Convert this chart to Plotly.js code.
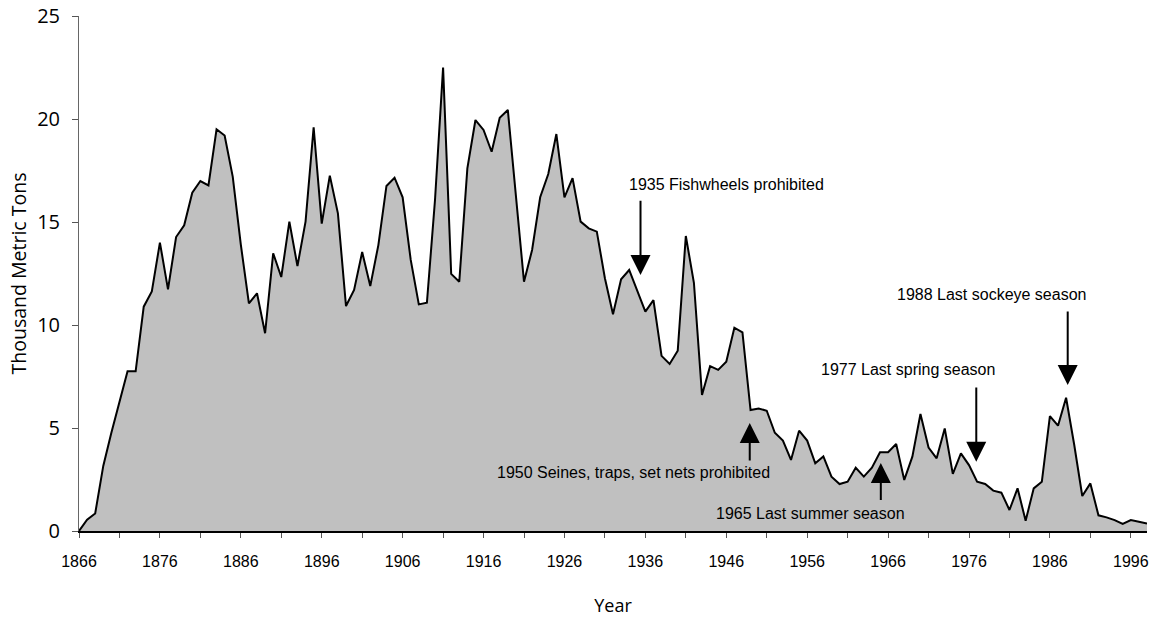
<!DOCTYPE html>
<html>
<head>
<meta charset="utf-8">
<script src="https://cdn.plot.ly/plotly-3.0.1.min.js"></script>
<style>html,body{margin:0;padding:0;background:#fff;}#chart{width:1152px;height:618px;}</style>
</head>
<body>
<div id="chart"></div>
<script>
// Years 1866-1998
const startYear = 1866;
const catch1000t = [
  0, 0.55, 0.85, 3.16, 4.77, 6.23, 7.75, 7.75, 10.89, 11.63,
  14.0, 11.73, 14.27, 14.84, 16.42, 16.99, 16.78, 19.5, 19.2, 17.2,
  13.9, 11.05, 11.54, 9.6, 13.48, 12.33, 15.02, 12.86, 15.02, 19.6,
  14.92, 17.25, 15.42, 10.92, 11.7, 13.54, 11.89, 13.88, 16.75, 17.15,
  16.2, 13.16, 11.0, 11.08, 16.07, 22.5, 12.48, 12.1, 17.6, 19.95,
  19.47, 18.41, 20.06, 20.44, 16.3, 12.1, 13.64, 16.2, 17.33, 19.27,
  16.2, 17.13, 15.02, 14.69, 14.53, 12.27, 10.52, 12.22, 12.67, 11.7,
  10.65, 11.21, 8.5, 8.11, 8.75, 14.32, 12.05, 6.6, 8.0, 7.82,
  8.22, 9.87, 9.64, 5.87, 5.95, 5.84, 4.77, 4.39, 3.45, 4.87,
  4.39, 3.29, 3.62, 2.64, 2.28, 2.39, 3.07, 2.64, 3.07, 3.82,
  3.82, 4.22, 2.48, 3.61, 5.68, 4.05, 3.53, 4.98, 2.77, 3.77,
  3.2, 2.39, 2.28, 1.96, 1.86, 1.02, 2.07, 0.5, 2.07, 2.39,
  5.58, 5.11, 6.47, 4.2, 1.7, 2.31, 0.76, 0.66, 0.53, 0.34,
  0.53, 0.45, 0.36
];
const years = catch1000t.map((_, i) => startYear + i);

const tickYears = [];
const tickLabels = [];
for (let y = 1866; y <= 1998; y += 5) {
  tickYears.push(y);
  tickLabels.push(((y - 1866) % 10 === 0) ? String(y) : '');
}

const eventTexts = [
  '1935 Fishwheels prohibited',
  '1950 Seines, traps, set nets prohibited',
  '1965 Last summer season',
  '1977 Last spring season',
  '1988 Last sockeye season'
];

// label positions (data coords) and arrows: [x, tail, tip]
const labelPos = [[1946.0, 16.84], [1934.5, 2.82], [1956.4, 0.87], [1968.5, 7.82], [1978.8, 11.46]];
const arrowPos = [[1935.4, 16.1, 12.43], [1948.9, 3.35, 5.24], [1965.1, 1.43, 3.3], [1976.9, 7.04, 3.36], [1988.2, 10.73, 7.09]];

const annFont = {family: 'Liberation Sans, Arial, sans-serif', size: 16, color: '#000'};
const annotations = [];
eventTexts.forEach((t, i) => {
  annotations.push({
    x: labelPos[i][0], y: labelPos[i][1], xref: 'x', yref: 'y',
    text: t, showarrow: false, font: annFont, xanchor: 'center', yanchor: 'middle'
  });
  annotations.push({
    x: arrowPos[i][0], y: arrowPos[i][2], ax: arrowPos[i][0], ay: arrowPos[i][1],
    xref: 'x', yref: 'y', axref: 'x', ayref: 'y',
    text: '', showarrow: true, arrowhead: 2, arrowsize: 2, arrowwidth: 2,
    arrowcolor: '#000', standoff: 0, startstandoff: 0
  });
});

const trace = {
  x: years, y: catch1000t, type: 'scatter', mode: 'lines',
  fill: 'tozeroy', fillcolor: '#C0C0C0',
  line: {color: '#000', width: 2}, hoverinfo: 'x+y'
};

const layout = {
  width: 1152, height: 618,
  margin: {l: 79, r: 5, t: 16, b: 87},
  paper_bgcolor: '#fff', plot_bgcolor: '#fff',
  showlegend: false,
  xaxis: {
    range: [1866, 1998], showgrid: false, zeroline: false,
    showline: true, linecolor: '#000', linewidth: 2,
    tickmode: 'array', tickvals: tickYears, ticktext: tickLabels,
    ticks: 'outside', ticklen: 5, tickwidth: 1, tickcolor: '#555',
    ticklabelstandoff: 10,
    tickfont: {family: 'Liberation Sans, Arial, sans-serif', size: 16, color: '#000'},
    title: {text: 'Year', font: {family: 'Open Sans, sans-serif', size: 18, color: '#000'}, standoff: 30}
  },
  yaxis: {
    range: [0, 25], showgrid: false, zeroline: false,
    showline: true, linecolor: '#666', linewidth: 1,
    tickmode: 'array', tickvals: [0, 5, 10, 15, 20, 25],
    ticks: 'outside', ticklen: 6, tickwidth: 1, tickcolor: '#555',
    ticklabelstandoff: 8,
    tickfont: {family: 'Open Sans, sans-serif', size: 20, color: '#000'},
    title: {text: 'Thousand Metric Tons', font: {family: 'Open Sans, sans-serif', size: 19.5, color: '#000'}, standoff: 5}
  },
  annotations: annotations
};

Plotly.newPlot('chart', [trace], layout, {displayModeBar: false, staticPlot: true});
</script>
</body>
</html>
